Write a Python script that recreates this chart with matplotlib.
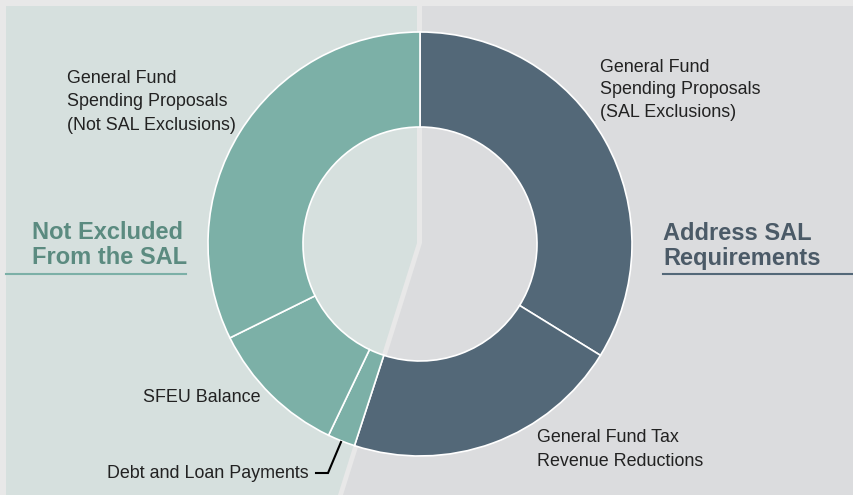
import matplotlib.pyplot as plt
from matplotlib.patches import Polygon

plt.rcParams['font.family'] = ['Liberation Sans', 'DejaVu Sans']

# shares of the total, clockwise from 12 o'clock (percent)
categorias = ['General Fund Spending Proposals (SAL Exclusions)',
              'General Fund Tax Revenue Reductions',
              'Debt and Loan Payments',
              'SFEU Balance',
              'General Fund Spending Proposals (Not SAL Exclusions)']
valores = [33.8, 21.2, 2.1, 10.6, 32.3]
grupos = ['SAL', 'SAL', 'no', 'no', 'no']

C_OSCURO = '#536878'
C_VERDE = '#7cb0a7'
colores = [C_OSCURO if g == 'SAL' else C_VERDE for g in grupos]

W, H = 854, 495

def Y(y):
    # pixel row (from top) -> axes coordinate (from bottom)
    return H - y

fig = plt.figure(figsize=(W / 100, H / 100), dpi=100, facecolor='#e8e8e8')
ax = fig.add_axes([0, 0, 1, 1])
ax.set_facecolor('#e8e8e8')

#___________________fondos de los dos paneles___________________

izq = Polygon([(6, Y(6)), (417, Y(6)), (417, Y(243)), (338, Y(495)), (6, Y(495))],
              closed=True, facecolor='#d6e0de', edgecolor='none', zorder=0)
der = Polygon([(422, Y(6)), (W, Y(6)), (W, Y(495)), (343, Y(495)), (422, Y(243))],
              closed=True, facecolor='#dbdcde', edgecolor='none', zorder=0)
ax.add_patch(izq)
ax.add_patch(der)

#___________________dona___________________

R = 212
ancho = 95
ax.pie(valores, colors=colores, radius=R, center=(420, Y(244)), startangle=90,
       counterclock=False, frame=True,
       wedgeprops=dict(width=ancho, edgecolor='white', linewidth=1.2))

#___________________etiquetas___________________

txt = dict(fontsize=12.9, color='#222222', ha='left', va='center', linespacing=1.5)
ax.text(67, Y(102), 'General Fund\nSpending Proposals\n(Not SAL Exclusions)', **txt)
ax.text(600, Y(90), 'General Fund\nSpending Proposals\n(SAL Exclusions)',
        fontsize=12.9, color='#222222', ha='left', va='center', linespacing=1.43)
ax.text(143, Y(398), 'SFEU Balance', **txt)
ax.text(537, Y(449.5), 'General Fund Tax\nRevenue Reductions', **txt)
ax.text(309, Y(473.5), 'Debt and Loan Payments', fontsize=12.9, color='#222222',
        ha='right', va='center')
ax.plot([316, 328, 341], [Y(473), Y(473), Y(442)], color='black', lw=1.5,
        solid_joinstyle='miter')

ax.text(32, Y(245), 'Not Excluded\nFrom the SAL', fontsize=17, fontweight='bold',
        color='#5b8b80', ha='left', va='center', linespacing=1.15)
ax.plot([6, 186], [Y(274), Y(274)], color='#7cb0a7', lw=1.5)

ax.text(663, Y(246), 'Address SAL\nRequirements', fontsize=17, fontweight='bold',
        color='#4b5a67', ha='left', va='center', linespacing=1.15)
ax.plot([663, W], [Y(274), Y(274)], color='#536878', lw=1.5)

ax.set_xlim(0, W)
ax.set_ylim(0, H)
ax.set_aspect('auto')
ax.axis('off')

fig.savefig('out.png', dpi=100, facecolor=fig.get_facecolor())
